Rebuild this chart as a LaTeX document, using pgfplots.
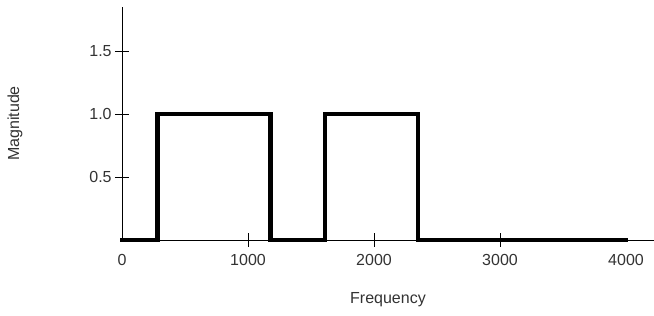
\documentclass[border=0pt]{standalone}
\usepackage{pgfplots}
\pgfplotsset{compat=1.18}
\usepackage{fontspec}
\setmainfont{Liberation Sans}
\begin{document}
\begin{tikzpicture}
\begin{axis}[
  scale only axis,
  width=399pt, height=174.75pt,
  xmin=0, xmax=4222, ymin=0, ymax=1.85,
  axis x line=bottom, axis y line=left,
  axis line style={-, black, line width=0.6pt},
  xtick={0,1000,2000,3000,4000},
  xticklabels={0,1000,2000,3000,4000},
  ytick={0.5,1.0,1.5},
  yticklabels={0.5,1.0,1.5},
  tick align=center,
  major tick length=10.5pt,
  tick style={black, line width=0.6pt},
  xtick style={draw=none},
  extra x ticks={1000,2000,3000},
  extra x tick labels={},
  extra x tick style={xtick style={draw=black, line width=0.6pt}},
  ticklabel style={font=\fontsize{12}{14}\selectfont, text=black!80},
  xticklabel style={yshift=-2pt},
  yticklabel style={xshift=1pt},
  label style={font=\fontsize{12}{14}\selectfont, text=black!80},
  xlabel={Frequency},
  ylabel={Magnitude},
  xlabel style={at={(rel axis cs:0.5,0)}, anchor=center, yshift=-45pt},
  ylabel style={at={(rel axis cs:0,0.5)}, anchor=center, yshift=80.25pt},
  clip=false,
]
\addplot[black, line width=3.5pt, line join=miter, line cap=rect] coordinates {
 (0,0) (282,0) (282,1) (1178,1) (1178,0) (1612,0) (1612,1) (2350,1) (2350,0) (4000,0)
};
\coordinate (ll) at (rel axis cs:0,0);
\coordinate (ur) at (rel axis cs:1,1);
\end{axis}
\pgfresetboundingbox
\path[use as bounding box] ([shift={(-91.5pt,-57pt)}]ll) rectangle ([shift={(0pt,5.25pt)}]ur);
\end{tikzpicture}
\end{document}
